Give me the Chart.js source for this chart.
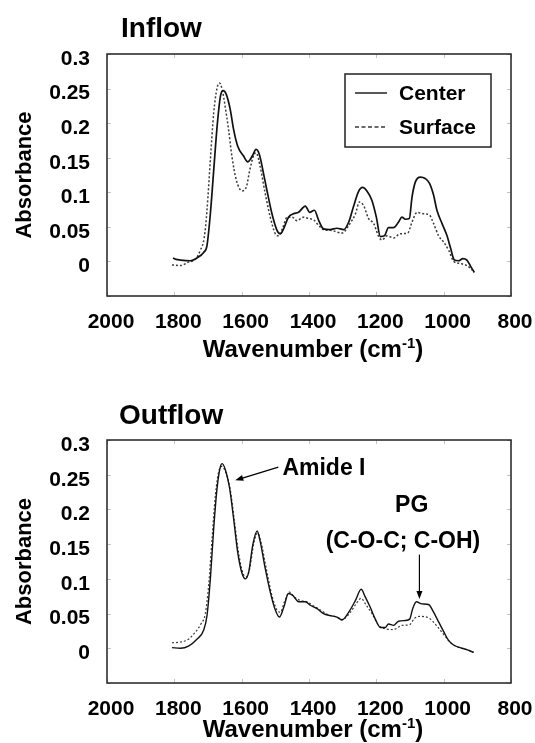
<!DOCTYPE html>
<html>
<head>
<meta charset="utf-8">
<script src="https://cdn.jsdelivr.net/npm/chart.js@4.4.1/dist/chart.umd.min.js"></script>
<style>
  body { margin: 0; background: #fff; }
  canvas { display: block; }
</style>
</head>
<body>
<canvas id="graficoInflow" width="535" height="386"></canvas>
<canvas id="graficoOutflow" width="535" height="357"></canvas>
<script>
// Espectros (número de onda em cm-1, absorbância)
const inflowCenterX = [1804, 1795, 1782, 1753, 1733, 1713, 1703, 1693, 1683, 1673, 1663, 1655, 1646, 1634, 1624, 1612, 1594, 1582, 1569, 1557, 1547, 1535, 1525, 1510, 1495, 1485, 1473, 1461, 1446, 1431, 1411, 1398, 1384, 1371, 1357, 1337, 1317, 1297, 1282, 1268, 1253, 1241, 1228, 1213, 1200, 1188, 1176, 1164, 1149, 1134, 1124, 1114, 1102, 1094, 1084, 1069, 1055, 1042, 1030, 1020, 1005, 990, 980, 968, 956, 943, 931, 921, 909];
const inflowCenterY = [0.005, 0.003, 0.002, 0.001, 0.005, 0.013, 0.023, 0.069, 0.132, 0.195, 0.239, 0.247, 0.242, 0.220, 0.191, 0.167, 0.152, 0.144, 0.152, 0.162, 0.154, 0.127, 0.103, 0.069, 0.045, 0.040, 0.050, 0.064, 0.069, 0.071, 0.080, 0.071, 0.074, 0.059, 0.047, 0.046, 0.048, 0.046, 0.057, 0.079, 0.101, 0.107, 0.102, 0.088, 0.064, 0.036, 0.037, 0.049, 0.049, 0.057, 0.064, 0.061, 0.062, 0.093, 0.115, 0.122, 0.120, 0.113, 0.096, 0.074, 0.055, 0.037, 0.020, 0.002, 0.001, 0.004, 0.002, -0.006, -0.016];

const inflowSurfaceX = [1807, 1782, 1758, 1738, 1723, 1711, 1703, 1693, 1683, 1673, 1666, 1658, 1649, 1639, 1629, 1616, 1599, 1586, 1576, 1564, 1557, 1545, 1530, 1515, 1500, 1490, 1477, 1465, 1450, 1436, 1416, 1401, 1386, 1371, 1352, 1337, 1302, 1282, 1262, 1250, 1238, 1223, 1208, 1193, 1183, 1168, 1149, 1129, 1107, 1094, 1079, 1060, 1042, 1030, 1015, 1000, 985, 970, 951, 931, 914];
const inflowSurfaceY = [-0.005, -0.006, -0.001, 0.003, 0.016, 0.035, 0.074, 0.147, 0.215, 0.251, 0.258, 0.249, 0.224, 0.191, 0.152, 0.118, 0.102, 0.108, 0.132, 0.154, 0.157, 0.137, 0.098, 0.064, 0.040, 0.037, 0.050, 0.064, 0.064, 0.059, 0.064, 0.062, 0.060, 0.052, 0.045, 0.045, 0.041, 0.052, 0.069, 0.086, 0.081, 0.062, 0.055, 0.036, 0.031, 0.037, 0.034, 0.040, 0.041, 0.057, 0.071, 0.069, 0.067, 0.055, 0.037, 0.028, 0.016, 0.000, -0.003, -0.006, -0.013];

const outflowCenterX = [1807, 1782, 1758, 1733, 1713, 1703, 1693, 1683, 1673, 1663, 1658, 1649, 1636, 1624, 1612, 1599, 1589, 1579, 1567, 1554, 1545, 1530, 1515, 1500, 1488, 1475, 1461, 1448, 1431, 1411, 1396, 1376, 1357, 1337, 1317, 1302, 1282, 1262, 1245, 1233, 1218, 1203, 1188, 1173, 1164, 1149, 1134, 1114, 1101, 1092, 1081, 1065, 1045, 1030, 1015, 1000, 985, 968, 951, 931, 911];
const outflowCenterY = [0.001, 0.000, 0.003, 0.013, 0.026, 0.047, 0.100, 0.173, 0.231, 0.262, 0.266, 0.258, 0.231, 0.187, 0.139, 0.108, 0.100, 0.110, 0.149, 0.169, 0.154, 0.115, 0.081, 0.055, 0.045, 0.059, 0.079, 0.076, 0.067, 0.067, 0.062, 0.057, 0.050, 0.047, 0.045, 0.041, 0.052, 0.069, 0.085, 0.074, 0.059, 0.042, 0.030, 0.030, 0.035, 0.033, 0.039, 0.040, 0.042, 0.057, 0.067, 0.064, 0.063, 0.052, 0.038, 0.024, 0.011, 0.004, 0.001, -0.002, -0.006];

const outflowSurfaceX = [1807, 1782, 1758, 1738, 1721, 1708, 1698, 1688, 1678, 1668, 1658, 1649, 1634, 1622, 1609, 1596, 1586, 1576, 1564, 1553, 1543, 1527, 1510, 1495, 1485, 1473, 1458, 1444, 1426, 1406, 1386, 1366, 1342, 1317, 1302, 1277, 1260, 1245, 1230, 1213, 1193, 1173, 1149, 1124, 1101, 1087, 1071, 1042, 1025, 1005, 985, 965, 946, 926, 911];
const outflowSurfaceY = [0.008, 0.009, 0.013, 0.023, 0.035, 0.050, 0.091, 0.158, 0.221, 0.255, 0.262, 0.255, 0.229, 0.185, 0.137, 0.108, 0.103, 0.115, 0.151, 0.166, 0.154, 0.115, 0.076, 0.055, 0.052, 0.067, 0.081, 0.074, 0.069, 0.067, 0.061, 0.055, 0.048, 0.045, 0.041, 0.052, 0.064, 0.072, 0.062, 0.050, 0.033, 0.028, 0.027, 0.033, 0.034, 0.043, 0.046, 0.043, 0.035, 0.023, 0.011, 0.003, 0.000, -0.003, -0.006];

const rotulosSeries = ['Center', 'Surface'];

// Anotações do painel Outflow (coordenadas em unidades dos dados)
const anotacoesTexto = [
  { texto: 'Amide I', x: 1479, y: 0.259, alinhamento: 'left' },
  { texto: 'PG', x: 1095, y: 0.206, alinhamento: 'center' },
  { texto: '(C-O-C; C-OH)', x: 1121, y: 0.154, alinhamento: 'center' }
];
const anotacoesSeta = [
  { de: [1491, 0.261], para: [1619, 0.242] },
  { de: [1072, 0.135], para: [1072, 0.071] }
];

const FONTE = "'Liberation Sans', Arial, Helvetica, sans-serif";
Chart.defaults.font.family = FONTE;
Chart.defaults.color = '#000';

function pontos(xs, ys) {
  return xs.map((x, i) => ({ x: x, y: ys[i] }));
}

// moldura da área do gráfico com marquinhas internas
const pluginMoldura = {
  id: 'moldura',
  afterDatasetsDraw(chart) {
    const { ctx, chartArea: a, scales } = chart;
    ctx.save();
    ctx.strokeStyle = '#c4c4c4';
    ctx.lineWidth = 1;
    ctx.beginPath();
    scales.x.ticks.forEach(t => {
      const px = Math.round(scales.x.getPixelForValue(t.value)) + 0.5;
      ctx.moveTo(px, a.top); ctx.lineTo(px, a.top + 4);
      ctx.moveTo(px, a.bottom); ctx.lineTo(px, a.bottom - 4);
    });
    scales.y.ticks.forEach(t => {
      const py = Math.round(scales.y.getPixelForValue(t.value)) + 0.5;
      ctx.moveTo(a.left, py); ctx.lineTo(a.left + 4, py);
      ctx.moveTo(a.right, py); ctx.lineTo(a.right - 4, py);
    });
    ctx.stroke();
    ctx.strokeStyle = '#222';
    ctx.lineWidth = 1.5;
    ctx.strokeRect(a.left, a.top, a.right - a.left, a.bottom - a.top);
    ctx.restore();
  }
};

// títulos do painel e do eixo x (com sobrescrito), legenda com caixa e anotações
const pluginTextos = {
  id: 'textos',
  afterDraw(chart, args, opts) {
    const { ctx, chartArea: a, scales } = chart;
    ctx.save();
    ctx.fillStyle = '#000';
    ctx.textBaseline = 'alphabetic';

    // título do painel
    ctx.font = `bold 28px ${FONTE}`;
    ctx.textAlign = 'left';
    ctx.fillText(opts.titulo, opts.tituloX, opts.tituloY);

    // título do eixo x: Wavenumber (cm-1)
    const base = 'Wavenumber (cm';
    ctx.font = `bold 24px ${FONTE}`;
    const w1 = ctx.measureText(base).width;
    const w3 = ctx.measureText(')').width;
    ctx.font = `bold 15px ${FONTE}`;
    const w2 = ctx.measureText('-1').width;
    let x = (a.left + a.right) / 2 + 4 - (w1 + w2 + w3) / 2;
    const yb = opts.eixoXY + 8;
    ctx.font = `bold 24px ${FONTE}`;
    ctx.fillText(base, x, yb);
    x += w1;
    ctx.font = `bold 15px ${FONTE}`;
    ctx.fillText('-1', x, yb - 9);
    x += w2;
    ctx.font = `bold 24px ${FONTE}`;
    ctx.fillText(')', x, yb);

    // legenda em caixa
    if (opts.legenda) {
      const L = a.right - 20 - 146, T = a.top + 20;
      ctx.strokeStyle = '#222';
      ctx.lineWidth = 1.5;
      ctx.strokeRect(L, T, 146, 73);
      ctx.font = `bold 21px ${FONTE}`;
      ctx.textBaseline = 'middle';
      chart.data.datasets.forEach((ds, i) => {
        const yy = T + 19 + i * 34;
        ctx.beginPath();
        ctx.strokeStyle = ds.borderColor;
        ctx.lineWidth = 1.4;
        ctx.setLineDash(ds.borderDash && ds.borderDash.length ? [4, 2.5] : []);
        ctx.moveTo(L + 10, yy);
        ctx.lineTo(L + 42, yy);
        ctx.stroke();
        ctx.setLineDash([]);
        ctx.fillStyle = '#000';
        ctx.fillText(ds.label, L + 54, yy + 1);
      });
      ctx.textBaseline = 'alphabetic';
    }

    // anotações
    if (opts.anotacoes) {
      ctx.font = `bold 23px ${FONTE}`;
      ctx.textBaseline = 'middle';
      anotacoesTexto.forEach(t => {
        ctx.textAlign = t.alinhamento;
        ctx.fillText(t.texto, scales.x.getPixelForValue(t.x), scales.y.getPixelForValue(t.y));
      });
      ctx.strokeStyle = '#000';
      ctx.lineWidth = 1.2;
      anotacoesSeta.forEach(s => {
        const x1 = scales.x.getPixelForValue(s.de[0]), y1 = scales.y.getPixelForValue(s.de[1]);
        const x2 = scales.x.getPixelForValue(s.para[0]), y2 = scales.y.getPixelForValue(s.para[1]);
        const ang = Math.atan2(y2 - y1, x2 - x1);
        ctx.beginPath();
        ctx.moveTo(x1, y1);
        ctx.lineTo(x2 - 5 * Math.cos(ang), y2 - 5 * Math.sin(ang));
        ctx.stroke();
        ctx.beginPath();
        ctx.moveTo(x2, y2);
        ctx.lineTo(x2 - 8 * Math.cos(ang) + 3 * Math.sin(ang), y2 - 8 * Math.sin(ang) - 3 * Math.cos(ang));
        ctx.lineTo(x2 - 8 * Math.cos(ang) - 3 * Math.sin(ang), y2 - 8 * Math.sin(ang) + 3 * Math.cos(ang));
        ctx.closePath();
        ctx.fill();
      });
    }
    ctx.restore();
  }
};

function criaGrafico(idCanvas, centro, superficie, alturaEixoX, larguraLinha, textos) {
  const ctx = document.getElementById(idCanvas).getContext('2d');
  return new Chart(ctx, {
    type: 'line',
    data: {
      datasets: [
        { label: rotulosSeries[0], data: centro, borderColor: '#111', borderWidth: larguraLinha,
          pointRadius: 0, fill: false, cubicInterpolationMode: 'monotone' },
        { label: rotulosSeries[1], data: superficie, borderColor: '#3a3a3a', borderWidth: larguraLinha - 0.2,
          borderDash: [2, 2], pointRadius: 0, fill: false, cubicInterpolationMode: 'monotone' }
      ]
    },
    options: {
      responsive: false,
      animation: false,
      events: [],
      layout: { padding: { left: 0, top: 54, right: 24, bottom: 0 } },
      plugins: { legend: { display: false }, tooltip: { enabled: false }, textos: textos },
      scales: {
        x: {
          type: 'linear', reverse: true, min: 800, max: 2000,
          grid: { display: false }, border: { display: false },
          ticks: {
            stepSize: 200, padding: 6, labelOffset: 4, font: { size: 21, weight: 'bold' }, color: '#000',
            callback: v => String(Math.round(v))
          },
          afterFit: s => { s.height = alturaEixoX; }
        },
        y: {
          min: -0.05, max: 0.3,
          grid: { display: false }, border: { display: false },
          ticks: {
            stepSize: 0.05, padding: 9, labelOffset: 5, font: { size: 21, weight: 'bold' }, color: '#000',
            callback: v => v < -0.001 ? '' : String(Math.round(v * 100) / 100)
          },
          title: { display: true, text: 'Absorbance', font: { size: 22, weight: 'bold' }, color: '#000', padding: { top: 12, bottom: 0 } },
          afterFit: s => { s.width = 107; }
        }
      }
    },
    plugins: [pluginMoldura, pluginTextos]
  });
}

window.addEventListener('DOMContentLoaded', () => {
  criaGrafico('graficoInflow',
    pontos(inflowCenterX, inflowCenterY), pontos(inflowSurfaceX, inflowSurfaceY),
    90, 1.7,
    { titulo: 'Inflow', tituloX: 121, tituloY: 37, eixoXY: 349, legenda: true, anotacoes: false });

  criaGrafico('graficoOutflow',
    pontos(outflowCenterX, outflowCenterY), pontos(outflowSurfaceX, outflowSurfaceY),
    60, 1.4,
    { titulo: 'Outflow', tituloX: 119, tituloY: 38, eixoXY: 343, legenda: false, anotacoes: true });
});
</script>
</body>
</html>
